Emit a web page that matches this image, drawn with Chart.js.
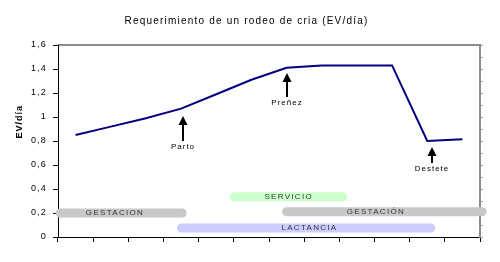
<!DOCTYPE html>
<html>
<head>
<meta charset="utf-8">
<script src="https://cdn.jsdelivr.net/npm/chart.js@4/dist/chart.umd.min.js"></script>
<style>
    body { margin: 0; background: #fff; }
</style>
</head>
<body>
<canvas id="chart" width="500" height="262"></canvas>
<script>
const periodos = ['1', '2', '3', '4', '5', '6', '7', '8', '9', '10', '11', '12'];
const requerimiento = [0.85, 0.92, 0.99, 1.07, 1.19, 1.31, 1.41, 1.43, 1.43, 1.43, 0.80, 0.815];

// etapas del ciclo (barras horizontales bajo la curva)
const etapas = ['GESTACION', 'LACTANCIA', 'SERVICIO', 'GESTACIÓN'];
const etapaInicio = [0.06, 3.51, 5.02, 6.5];
const etapaFin = [3.53, 10.6, 8.1, 12.06];
const etapaNivel = [0.2, 0.075, 0.335, 0.21];
const etapaTexto = [1.62, 7.15, 6.56, 9.04];
const etapaColores = ['#c8c8c8', '#ccccff', '#ccffcc', '#c8c8c8'];

// eventos marcados con flecha
const eventos = ['Parto', 'Preñez', 'Destete'];
const eventoPos = [3.55, 6.52, 10.63];
const eventoPunta = [1.01, 1.37, 0.75];
const eventoLargo = [25, 24, 16];

const fuente = "'Liberation Sans', Arial, sans-serif";

const datasetsEtapas = etapas.map((nombre, i) => ({
    type: 'line',
    label: nombre,
    xAxisID: 'xb',
    data: [{ x: etapaInicio[i], y: etapaNivel[i] }, { x: etapaFin[i], y: etapaNivel[i] }],
    borderColor: etapaColores[i],
    borderWidth: 9,
    borderCapStyle: 'round',
    pointRadius: 0,
    clip: false
}));

const anotaciones = {
    id: 'anotaciones',
    beforeDraw(chart) {
        chart.ctx.letterSpacing = '1.2px';
    },
    afterDatasetsDraw(chart) {
        const ctx = chart.ctx;
        const xb = chart.scales.xb;
        const y = chart.scales.y;

        ctx.save();
        // textos de las etapas
        ctx.font = '8px ' + fuente;
        ctx.letterSpacing = '1.3px';
        ctx.fillStyle = '#333';
        ctx.textAlign = 'center';
        ctx.textBaseline = 'middle';
        etapas.forEach((nombre, i) => {
            ctx.fillText(nombre, xb.getPixelForValue(etapaTexto[i]), y.getPixelForValue(etapaNivel[i]));
        });

        // flechas
        ctx.fillStyle = '#000';
        ctx.letterSpacing = '1px';
        eventos.forEach((nombre, i) => {
            const px = Math.round(xb.getPixelForValue(eventoPos[i]));
            const py = Math.round(y.getPixelForValue(eventoPunta[i]));
            ctx.beginPath();
            ctx.moveTo(px, py);
            ctx.lineTo(px + 4.5, py + 9);
            ctx.lineTo(px - 4.5, py + 9);
            ctx.closePath();
            ctx.fill();
            ctx.fillRect(px - 1, py + 8, 2, eventoLargo[i] - 8);
            ctx.textBaseline = 'top';
            ctx.fillText(nombre, px, py + eventoLargo[i] + 2);
        });

        // titulo del eje y
        ctx.font = 'bold 9px ' + fuente;
        ctx.translate(20, y.getPixelForValue(0.96));
        ctx.rotate(-Math.PI / 2);
        ctx.textBaseline = 'middle';
        ctx.fillText('EV/día', 0, 0);
        ctx.restore();
    }
};

new Chart(document.getElementById('chart'), {
    data: {
        labels: periodos,
        datasets: [
            ...datasetsEtapas,
            {
                type: 'line',
                label: 'Requerimiento',
                data: requerimiento,
                xAxisID: 'x',
                borderColor: '#000080',
                borderWidth: 2,
                pointRadius: 0,
                tension: 0
            }
        ]
    },
    options: {
        responsive: false,
        animation: false,
        layout: { padding: { left: 0, right: 7, top: 0, bottom: 0 } },
        plugins: {
            legend: { display: false },
            tooltip: { enabled: false },
            title: {
                display: true,
                text: 'Requerimiento de un rodeo de cria (EV/día)',
                color: '#000',
                font: { family: fuente, size: 10, weight: 'normal', lineHeight: 1.2 },
                padding: { top: 15, bottom: 18 }
            }
        },
        scales: {
            x: {
                type: 'category',
                offset: true,
                grid: { offset: true, drawOnChartArea: false, tickLength: 5, color: '#000' },
                ticks: { display: false },
                border: { color: '#000', width: 1, dash: [1, 1] },
                afterFit: s => { s.height = 25; }
            },
            xb: {
                type: 'linear',
                min: 0,
                max: 12,
                display: false
            },
            xt: {
                type: 'linear',
                position: 'top',
                min: 0,
                max: 12,
                grid: { display: false },
                ticks: { display: false },
                border: { color: '#8c8c8c', width: 2 },
                afterFit: s => { s.height = 0; }
            },
            y: {
                min: 0,
                max: 1.6,
                ticks: {
                    stepSize: 0.2,
                    padding: 6,
                    color: '#000',
                    font: { family: fuente, size: 9 },
                    callback: v => String(Math.round(v * 10) / 10).replace('.', ',')
                },
                grid: { drawOnChartArea: false, tickLength: 5, color: '#000' },
                border: { color: '#000', width: 1 },
                afterFit: s => { s.width = 58; }
            },
            yr: {
                position: 'right',
                min: 0,
                max: 1.6,
                ticks: { display: false, stepSize: 0.1 },
                grid: { drawOnChartArea: false, tickLength: 3, color: '#a0a0a0' },
                border: { color: '#8c8c8c', width: 2 },
                afterFit: s => { s.width = 13; }
            }
        }
    },
    plugins: [anotaciones]
});
</script>
</body>
</html>
